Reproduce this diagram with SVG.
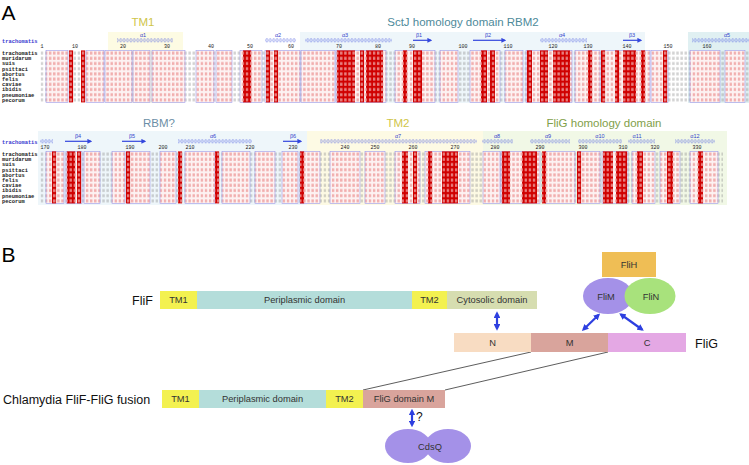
<svg xmlns="http://www.w3.org/2000/svg" width="749" height="465" viewBox="0 0 749 465">
<style>
.pl{font-family:"Liberation Sans",Arial,sans-serif;font-size:21px;fill:#000}
.dl{font-family:"Liberation Sans",Arial,sans-serif;font-size:11.5px;text-anchor:middle}
.nm{font-family:"Liberation Mono","DejaVu Sans Mono",monospace;font-size:5.4px;font-weight:bold;fill:#222}
.hd{font-family:"Liberation Mono","DejaVu Sans Mono",monospace;font-size:5.4px;font-weight:bold;fill:#3a3ad0}
.num{font-family:"Liberation Mono","DejaVu Sans Mono",monospace;font-size:5px;fill:#222;text-anchor:middle}
.ss{font-family:"Liberation Sans",Arial,sans-serif;font-size:5.5px;fill:#3344cc;text-anchor:middle}
.fr{stroke:#9a9aea;stroke-width:0.6}
.beta{stroke:#3347dd;stroke-width:1.2;marker-end:url(#bh)}
.bl{font-family:"Liberation Sans",Arial,sans-serif;font-size:12.5px;fill:#111}
.bx{font-family:"Liberation Sans",Arial,sans-serif;font-size:9.3px;fill:#333;text-anchor:middle}
.arr{stroke:#2d3fe0;stroke-width:2.2;fill:none;marker-start:url(#ah);marker-end:url(#ah)}
.ln{stroke:#333;stroke-width:0.8;fill:none}
</style>
<defs>
<pattern id="g1" patternUnits="userSpaceOnUse" x="40" y="50.4" width="4.1" height="5.2"><rect x="0.8" y="1.2" width="2.4" height="3" fill="#888" opacity="0.38"/></pattern>
<pattern id="p1" patternUnits="userSpaceOnUse" x="40" y="50.4" width="4.1" height="5.2"><rect width="4.1" height="5.2" fill="#fdf2f2"/><rect x="0.8" y="1.2" width="2.4" height="3" fill="#e05050" opacity="0.42"/></pattern>
<pattern id="r1" patternUnits="userSpaceOnUse" x="40" y="50.4" width="4.1" height="5.2"><rect width="4.1" height="5.2" fill="#d00000"/><rect x="0.8" y="1.2" width="2.4" height="3" fill="#fff" opacity="0.5"/></pattern>
<pattern id="g2" patternUnits="userSpaceOnUse" x="40" y="151.4" width="4.1" height="5.2"><rect x="0.8" y="1.2" width="2.4" height="3" fill="#888" opacity="0.38"/></pattern>
<pattern id="p2" patternUnits="userSpaceOnUse" x="40" y="151.4" width="4.1" height="5.2"><rect width="4.1" height="5.2" fill="#fdf2f2"/><rect x="0.8" y="1.2" width="2.4" height="3" fill="#e05050" opacity="0.42"/></pattern>
<pattern id="r2" patternUnits="userSpaceOnUse" x="40" y="151.4" width="4.1" height="5.2"><rect width="4.1" height="5.2" fill="#d00000"/><rect x="0.8" y="1.2" width="2.4" height="3" fill="#fff" opacity="0.5"/></pattern>
<pattern id="c1" patternUnits="userSpaceOnUse" x="0" y="38.3" width="3.4" height="4"><ellipse cx="1.7" cy="2" rx="1.1" ry="1.6" fill="none" stroke="#4a5ae0" stroke-width="0.45"/></pattern>
<pattern id="c2" patternUnits="userSpaceOnUse" x="0" y="139.3" width="3.4" height="4"><ellipse cx="1.7" cy="2" rx="1.1" ry="1.6" fill="none" stroke="#4a5ae0" stroke-width="0.45"/></pattern>
<marker id="bh" markerWidth="4" markerHeight="4" refX="3" refY="2" orient="auto" markerUnits="strokeWidth"><path d="M0,0 L4,2 L0,4 z" fill="#3347dd"/></marker>
<marker id="ah" markerWidth="3" markerHeight="3" refX="2" refY="1.5" orient="auto-start-reverse" markerUnits="strokeWidth"><path d="M0,0 L3,1.5 L0,3 z" fill="#2d3fe0"/></marker>
</defs>
<rect width="749" height="465" fill="#fff"/>

<!-- Panel A -->
<g id="panelA">
<text class="pl" x="1.5" y="19.5">A</text>

<g id="block1">
<rect x="108" y="32" width="75" height="71" fill="#fdfbe3"/>
<rect x="300" y="32" width="345" height="71" fill="#eef6fa"/>
<rect x="688" y="32" width="61" height="71" fill="#e0f0f2"/>
<text class="dl" x="143" y="25.5" fill="#cfc54a">TM1</text>
<text class="dl" x="463" y="25.5" fill="#4e8a9a">SctJ homology domain RBM2</text>

<rect x="117" y="38.3" width="56" height="4" fill="url(#c1)"/>
<rect x="265" y="38.3" width="31" height="4" fill="url(#c1)"/>
<rect x="305" y="38.3" width="87" height="4" fill="url(#c1)"/>
<rect x="540" y="38.3" width="47" height="4" fill="url(#c1)"/>
<rect x="692" y="38.3" width="57" height="4" fill="url(#c1)"/>
<line class="beta" x1="413" y1="40.3" x2="431" y2="40.3"/>
<line class="beta" x1="473" y1="40.3" x2="505" y2="40.3"/>
<line class="beta" x1="623" y1="40.3" x2="641" y2="40.3"/>
<text class="ss" x="143" y="36.5">α1</text>
<text class="ss" x="278" y="36.5">α2</text>
<text class="ss" x="345" y="36.5">α3</text>
<text class="ss" x="419" y="36.5">β1</text>
<text class="ss" x="488" y="36.5">β2</text>
<text class="ss" x="562" y="36.5">α4</text>
<text class="ss" x="632" y="36.5">β3</text>
<text class="ss" x="727" y="36.5">α5</text>

<text class="hd" x="2" y="43">trachomatis</text>
<text class="num" y="48"><tspan x="42">1</tspan><tspan x="75">10</tspan><tspan x="123">20</tspan><tspan x="167">30</tspan><tspan x="211">40</tspan><tspan x="250">50</tspan><tspan x="291">60</tspan><tspan x="339">70</tspan><tspan x="378">80</tspan><tspan x="412">90</tspan><tspan x="463">100</tspan><tspan x="508">110</tspan><tspan x="553">120</tspan><tspan x="588">130</tspan><tspan x="627">140</tspan><tspan x="668">150</tspan><tspan x="707">160</tspan></text>

<text class="nm"><tspan x="2" y="54.9">trachomatis</tspan><tspan x="2" y="60.1">muridarum</tspan><tspan x="2" y="65.3">suis</tspan><tspan x="2" y="70.5">psittaci</tspan><tspan x="2" y="75.7">abortus</tspan><tspan x="2" y="80.9">felis</tspan><tspan x="2" y="86.1">caviae</tspan><tspan x="2" y="91.3">ibidis</tspan><tspan x="2" y="96.5">pneumoniae</tspan><tspan x="2" y="101.7">pecorum</tspan></text>

<rect x="40" y="50.4" width="709" height="52" fill="url(#g1)"/>
<g fill="url(#p1)" class="fr">
<rect x="46" y="50.4" width="22" height="52"/><rect x="86" y="50.4" width="18" height="52"/><rect x="105" y="50.4" width="27" height="52"/><rect x="133" y="50.4" width="17" height="52"/><rect x="152" y="50.4" width="33" height="52"/><rect x="196" y="50.4" width="18" height="52"/><rect x="216" y="50.4" width="16" height="52"/><rect x="240" y="50.4" width="22" height="52"/><rect x="265" y="50.4" width="35" height="52"/><rect x="301" y="50.4" width="34" height="52"/><rect x="336" y="50.4" width="50" height="52"/><rect x="395" y="50.4" width="40" height="52"/><rect x="440" y="50.4" width="18" height="52"/><rect x="470" y="50.4" width="30" height="52"/><rect x="505" y="50.4" width="18" height="52"/><rect x="526" y="50.4" width="46" height="52"/><rect x="575" y="50.4" width="25" height="52"/><rect x="603" y="50.4" width="47" height="52"/><rect x="651" y="50.4" width="17" height="52"/><rect x="690" y="50.4" width="30" height="52"/><rect x="725" y="50.4" width="20" height="52"/>
</g>
<g fill="url(#r1)">
<rect x="69" y="50.4" width="4.1" height="52"/><rect x="81" y="50.4" width="4.1" height="52"/><rect x="243" y="50.4" width="8.2" height="52"/><rect x="266" y="50.4" width="4.1" height="52"/><rect x="274" y="50.4" width="4.1" height="52"/><rect x="337" y="50.4" width="18" height="52"/><rect x="360" y="50.4" width="4.1" height="52"/><rect x="366" y="50.4" width="17" height="52"/><rect x="403" y="50.4" width="4.1" height="52"/><rect x="413" y="50.4" width="9" height="52"/><rect x="481" y="50.4" width="6" height="52"/><rect x="490" y="50.4" width="5" height="52"/><rect x="527" y="50.4" width="5" height="52"/><rect x="540" y="50.4" width="8" height="52"/><rect x="553" y="50.4" width="17" height="52"/><rect x="588" y="50.4" width="4.1" height="52"/><rect x="601" y="50.4" width="4.1" height="52"/><rect x="615" y="50.4" width="4.1" height="52"/><rect x="623" y="50.4" width="13" height="52"/><rect x="641" y="50.4" width="4.1" height="52"/><rect x="663" y="50.4" width="4.1" height="52"/>
</g>
</g>

<g id="block2">
<rect x="38" y="131" width="269" height="74" fill="#eef6fa"/>
<rect x="307" y="131" width="176" height="74" fill="#fdfae4"/>
<rect x="483" y="131" width="244" height="74" fill="#f1f8e6"/>
<text class="dl" x="159" y="127" fill="#6b8ea6">RBM?</text>
<text class="dl" x="398" y="127" fill="#cfc54a">TM2</text>
<text class="dl" x="604" y="127" fill="#7fa04a">FliG homology domain</text>

<rect x="40" y="139.3" width="13" height="4" fill="url(#c2)"/>
<rect x="178" y="139.3" width="74" height="4" fill="url(#c2)"/>
<rect x="320" y="139.3" width="157" height="4" fill="url(#c2)"/>
<rect x="482" y="139.3" width="31" height="4" fill="url(#c2)"/>
<rect x="530" y="139.3" width="40" height="4" fill="url(#c2)"/>
<rect x="578" y="139.3" width="44" height="4" fill="url(#c2)"/>
<rect x="628" y="139.3" width="27" height="4" fill="url(#c2)"/>
<rect x="675" y="139.3" width="40" height="4" fill="url(#c2)"/>
<line class="beta" x1="65" y1="141.3" x2="91" y2="141.3"/>
<line class="beta" x1="122" y1="141.3" x2="145" y2="141.3"/>
<line class="beta" x1="283" y1="141.3" x2="301" y2="141.3"/>
<text class="ss" x="78" y="137.5">β4</text>
<text class="ss" x="132" y="137.5">β5</text>
<text class="ss" x="213" y="137.5">α6</text>
<text class="ss" x="293" y="137.5">β6</text>
<text class="ss" x="398" y="137.5">α7</text>
<text class="ss" x="497" y="137.5">α8</text>
<text class="ss" x="548" y="137.5">α9</text>
<text class="ss" x="600" y="137.5">α10</text>
<text class="ss" x="637" y="137.5">α11</text>
<text class="ss" x="695" y="137.5">α12</text>

<text class="hd" x="2" y="144">trachomatis</text>
<text class="num" y="149"><tspan x="45">170</tspan><tspan x="82">180</tspan><tspan x="130">190</tspan><tspan x="163">200</tspan><tspan x="190">210</tspan><tspan x="250">220</tspan><tspan x="293">230</tspan><tspan x="345">240</tspan><tspan x="375">250</tspan><tspan x="413">260</tspan><tspan x="455">270</tspan><tspan x="495">280</tspan><tspan x="540">290</tspan><tspan x="583">300</tspan><tspan x="623">310</tspan><tspan x="655">320</tspan><tspan x="697">330</tspan></text>

<text class="nm"><tspan x="2" y="155.9">trachomatis</tspan><tspan x="2" y="161.1">muridarum</tspan><tspan x="2" y="166.3">suis</tspan><tspan x="2" y="171.5">psittaci</tspan><tspan x="2" y="176.7">abortus</tspan><tspan x="2" y="181.9">felis</tspan><tspan x="2" y="187.1">caviae</tspan><tspan x="2" y="192.3">ibidis</tspan><tspan x="2" y="197.5">pneumoniae</tspan><tspan x="2" y="202.7">pecorum</tspan></text>

<rect x="40" y="151.4" width="683" height="52" fill="url(#g2)"/>
<g fill="url(#p2)" class="fr">
<rect x="46" y="151.4" width="18" height="52"/><rect x="66" y="151.4" width="16" height="52"/><rect x="84" y="151.4" width="16" height="52"/><rect x="112" y="151.4" width="13" height="52"/><rect x="127" y="151.4" width="23" height="52"/><rect x="160" y="151.4" width="16" height="52"/><rect x="185" y="151.4" width="30" height="52"/><rect x="222" y="151.4" width="28" height="52"/><rect x="255" y="151.4" width="20" height="52"/><rect x="282" y="151.4" width="16" height="52"/><rect x="300" y="151.4" width="20" height="52"/><rect x="330" y="151.4" width="30" height="52"/><rect x="365" y="151.4" width="20" height="52"/><rect x="395" y="151.4" width="25" height="52"/><rect x="425" y="151.4" width="45" height="52"/><rect x="483" y="151.4" width="17" height="52"/><rect x="501" y="151.4" width="39" height="52"/><rect x="545" y="151.4" width="30" height="52"/><rect x="578" y="151.4" width="22" height="52"/><rect x="602" y="151.4" width="26" height="52"/><rect x="632" y="151.4" width="23" height="52"/><rect x="660" y="151.4" width="20" height="52"/><rect x="690" y="151.4" width="28" height="52"/>
</g>
<g fill="url(#r2)">
<rect x="52" y="151.4" width="4.1" height="52"/><rect x="67" y="151.4" width="8.2" height="52"/><rect x="77" y="151.4" width="4.1" height="52"/><rect x="126" y="151.4" width="4.1" height="52"/><rect x="178" y="151.4" width="4.1" height="52"/><rect x="215" y="151.4" width="4.1" height="52"/><rect x="300" y="151.4" width="4.1" height="52"/><rect x="402" y="151.4" width="6" height="52"/><rect x="413" y="151.4" width="4.1" height="52"/><rect x="428" y="151.4" width="4.1" height="52"/><rect x="442" y="151.4" width="16" height="52"/><rect x="502" y="151.4" width="8" height="52"/><rect x="522" y="151.4" width="15" height="52"/><rect x="542" y="151.4" width="4.1" height="52"/><rect x="577" y="151.4" width="4.1" height="52"/><rect x="603" y="151.4" width="10" height="52"/><rect x="616" y="151.4" width="11" height="52"/><rect x="637" y="151.4" width="6" height="52"/><rect x="667" y="151.4" width="6" height="52"/><rect x="698" y="151.4" width="5" height="52"/>
</g>
</g>
</g>

<!-- Panel B -->
<text class="pl" x="1.5" y="262">B</text>

<g id="connectors">
<line class="ln" x1="531" y1="352" x2="363" y2="390"/>
<line class="ln" x1="608" y1="352" x2="445" y2="390"/>
<line class="arr" x1="497" y1="313.5" x2="497" y2="328.5"/>
<line class="arr" x1="598.5" y1="315" x2="583.5" y2="329.5"/>
<line class="arr" x1="621" y1="314.5" x2="642" y2="329.5"/>
<line class="arr" x1="412" y1="411" x2="412" y2="425"/>
<text x="416" y="421" class="bl" style="font-size:12px">?</text>
</g>

<g id="FliF">
<text class="bl" x="132" y="304.5">FliF</text>
<rect x="160" y="291" width="37" height="18" fill="#f3f150"/>
<rect x="197" y="291" width="215" height="18" fill="#b4ddda"/>
<rect x="412" y="291" width="35" height="18" fill="#f3f150"/>
<rect x="447" y="291" width="90" height="18" fill="#d6ddb0"/>
<text class="bx" x="178.5" y="303.3">TM1</text>
<text class="bx" x="304.5" y="303.3">Periplasmic domain</text>
<text class="bx" x="429.5" y="303.3">TM2</text>
<text class="bx" x="492" y="303.3">Cytosolic domain</text>
</g>

<g id="FliG">
<rect x="454" y="333" width="77" height="19" fill="#f8dcc2"/>
<rect x="531" y="333" width="77" height="19" fill="#d9a49c"/>
<rect x="608" y="333" width="78" height="19" fill="#e4a8e4"/>
<text class="bx" x="492.5" y="345.8">N</text>
<text class="bx" x="569.5" y="345.8">M</text>
<text class="bx" x="647" y="345.8">C</text>
<text class="bl" x="695" y="347.5">FliG</text>
</g>

<g id="FliH">
<rect x="602" y="252" width="54" height="25" fill="#efbe55"/>
<text class="bx" x="629" y="268">FliH</text>
</g>
<g id="FliM">
<ellipse cx="608" cy="296" rx="25" ry="18" fill="#a491e8"/>
<text class="bx" x="606" y="299.5">FliM</text>
</g>
<g id="FliN">
<ellipse cx="650" cy="296" rx="25.5" ry="18" fill="#a8e27c"/>
<text class="bx" x="651" y="299.5">FliN</text>
</g>

<g id="fusion">
<text class="bl" x="3" y="403.5">Chlamydia FliF-FliG fusion</text>
<rect x="162" y="390" width="37" height="18" fill="#f3f150"/>
<rect x="199" y="390" width="127" height="18" fill="#b4ddda"/>
<rect x="326" y="390" width="37" height="18" fill="#f3f150"/>
<rect x="363" y="390" width="82" height="18" fill="#d9a49c"/>
<text class="bx" x="180.5" y="402.3">TM1</text>
<text class="bx" x="262.5" y="402.3">Periplasmic domain</text>
<text class="bx" x="344.5" y="402.3">TM2</text>
<text class="bx" x="404" y="402.3">FliG domain M</text>
</g>

<g id="CdsQ">
<ellipse cx="408" cy="446" rx="23" ry="17" fill="#a491e8"/>
<ellipse cx="448" cy="446" rx="23" ry="17" fill="#a491e8"/>
<text class="bx" x="430" y="449.5">CdsQ</text>
</g>
</svg>
